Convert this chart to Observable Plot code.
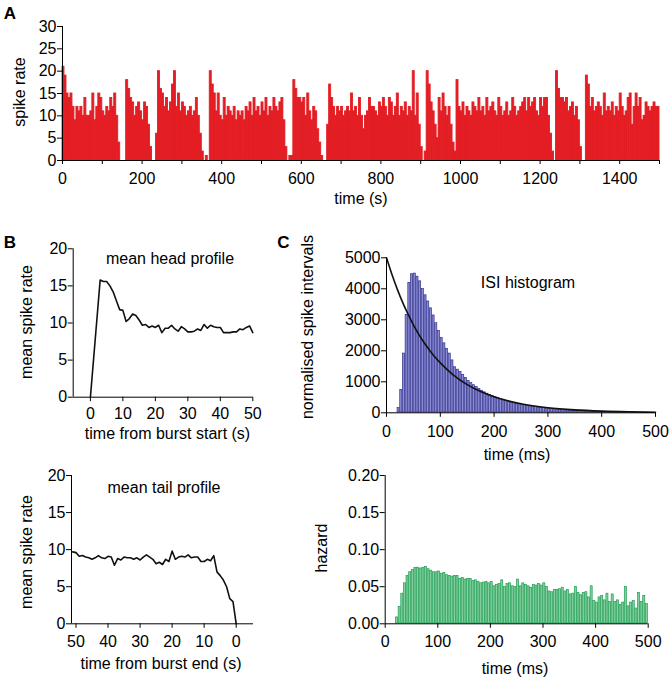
<!DOCTYPE html>
<html><head><meta charset="utf-8">
<script src="https://cdn.jsdelivr.net/npm/d3@7"></script>
<script src="https://cdn.jsdelivr.net/npm/@observablehq/plot@0.6"></script>
<style>
html,body{margin:0;padding:0;background:#fff;}
#fig{position:relative;width:672px;height:682px;overflow:hidden;font-family:"Liberation Sans",Arial,Helvetica,sans-serif;color:#000;background:#fff;}
.panel{position:absolute;}
.lbl{position:absolute;font-size:16px;line-height:16px;white-space:nowrap;transform:translate(-50%,-50%);}
.rot{transform:translate(-50%,-50%) rotate(-90deg);}
.letter{position:absolute;font-size:17px;font-weight:bold;line-height:17px;transform:translate(-50%,-50%);}
</style></head><body><div id="fig"></div>
<script>
// ---------- Panel A: spike rate in 5 s bins, 0-1500 s ----------
const binSeconds = 5;
const spikeRate = [
  // burst 1 (0-145 s)
  21,19,15,14,15,12,9,12,11,12,10,14,10,10,11,15,9,12,15,14,11,10,12,11,14,12,15,10,4,
  0,0,0,
  // burst 2 (160-225 s)
  18,16,14,13,10,12,13,11,9,13,12,8,3,
  0,0,
  // burst 3 (235-355 s)
  6,20,16,15,12,14,11,13,17,20,12,15,11,13,12,10,11,12,10,11,14,10,6,2,
  0,1,0,
  // burst 4 (370-565 s)
  20,17,15,11,15,10,9,14,10,12,11,10,12,9,11,10,11,9,12,11,13,10,14,11,12,10,13,11,14,10,12,11,14,12,11,13,14,9,3,
  0,
  // burst 5 (570-655 s)
  1,1,18,16,14,14,13,14,10,15,11,9,12,11,7,4,1,
  0,0,
  // burst 6 (665-905 s)
  8,17,14,12,10,12,11,12,10,11,12,11,15,11,12,10,14,10,7,10,11,14,12,12,11,10,13,12,14,12,10,14,13,10,12,15,10,12,11,13,10,12,11,20,10,15,8,3,
  0,
  // burst 7 (910-990 s)
  2,20,17,13,11,8,5,14,11,15,12,10,12,8,4,2,
  // burst 8 (990-1235 s)
  18,12,11,13,10,12,11,10,13,12,11,14,11,12,10,14,11,12,13,11,10,14,12,10,11,13,10,11,14,12,10,11,12,13,14,11,14,12,13,14,11,10,14,12,14,14,10,6,2,
  0,
  // burst 9 (1240-1305 s)
  20,16,14,14,13,14,11,12,13,10,12,9,3,
  0,0,
  // burst 10 (1315-1500 s)
  19,17,12,14,11,12,13,12,10,15,11,12,11,13,10,12,11,15,12,10,11,14,15,8,12,15,12,14,9,10,13,12,11,12,13,12,12
];

// ---------- Panel B: mean head / tail profiles ----------
const headTime = [0,3,4,5,6,7,8,9,10,11,12,13,14,15,16,17,18,19,20,21,22,23,24,25,26,27,28,29,30,31,32,33,34,35,36,37,38,39,40,41,42,43,44,45,46,47,48,49,50];
const headRate = [0,15.8,15.6,15.6,15.0,14.2,13.0,11.8,11.7,10.2,10.6,11.2,11.0,10.4,9.7,9.8,9.4,9.6,9.4,9.7,8.7,9.3,9.3,9.7,9.2,8.9,9.5,9.2,8.8,8.8,8.9,9.2,9.0,9.8,9.3,9.7,9.5,9.4,9.4,8.7,8.7,8.7,8.8,8.8,9.2,9.1,9.4,9.6,8.7];
const tailTime = [51,50,49,48,47,46,45,44,43,42,41,40,39,38,37,36,35,34,33,32,31,30,29,28,27,26,25,24,23,22,21,20,19,18,17,16,15,14,13,12,11,10,9,8,7,6,5,4,3,2,1,0];
const tailRate = [9.7,9.6,9.1,9.2,9.0,8.9,8.7,8.9,9.2,8.9,8.8,9.1,9.0,7.9,8.8,8.6,9.0,8.9,8.9,8.7,8.9,8.6,9.0,9.3,9.0,8.7,8.1,8.3,8.0,8.7,8.4,9.8,8.7,9.0,9.1,9.0,9.3,8.9,9.0,9.0,8.4,8.4,8.7,8.5,9.2,7.0,6.5,5.9,5.0,3.4,3.0,0];

// ---------- Panel C: ISI histogram (5 ms bins) and hazard ----------
const binMs = 5;
const isiCount = [
  0,0,0,0,160,750,1920,3170,4200,4480,
  4500,4400,4250,4000,3800,3600,3380,3150,2900,2650,
  2420,2250,2070,1920,1700,1480,1400,1330,1230,1130,
  1040,970,900,840,780,720,670,625,585,545,
  510,480,450,420,390,365,340,320,300,280,
  265,250,235,220,205,192,180,170,160,150,
  140,131,122,114,107,100,94,88,82,77,
  72,68,64,60,56,53,50,47,44,41,
  39,37,35,33,31,29,27,26,24,23,
  22,21,20,19,18,17,16,15,14,13
];
const fitTime = [0,10,20,30,40,50,60,70,80,90,100,125,150,175,200,250,300,350,400,450,500];
const fitCount = [5000,4470,3990,3560,3180,2840,2530,2260,2020,1800,1610,1210,910,685,515,290,165,95,55,32,20];
const hazard = [
  0,0,0,0,0.009,0.023,0.041,0.055,0.065,0.070,
  0.073,0.076,0.076,0.075,0.076,0.077,0.074,0.072,0.070,0.070,
  0.071,0.068,0.069,0.066,0.065,0.064,0.065,0.065,0.061,0.062,
  0.060,0.061,0.061,0.058,0.059,0.057,0.055,0.056,0.057,0.055,
  0.057,0.051,0.053,0.054,0.059,0.050,0.054,0.055,0.051,0.050,
  0.060,0.051,0.055,0.053,0.051,0.049,0.053,0.052,0.054,0.052,
  0.055,0.050,0.044,0.043,0.046,0.046,0.047,0.049,0.044,0.046,
  0.040,0.041,0.050,0.042,0.039,0.042,0.043,0.036,0.051,0.031,
  0.029,0.036,0.038,0.032,0.041,0.030,0.040,0.030,0.032,0.026,
  0.029,0.050,0.024,0.029,0.031,0.021,0.042,0.030,0.038,0.027
];

// tick labels
const ticksA_x = d3.range(0, 1501, 100);
const ticksA_y = [0,5,10,15,20,25,30];
const ticksHead_x = [0,10,20,30,40,50];
const ticksTail_x = [50,40,30,20,10,0];
const ticksProfile_y = [0,5,10,15,20];
const ticksMs = [0,100,200,300,400,500];
const ticksIsi_y = [0,1000,2000,3000,4000,5000];
const ticksHaz_y = [0,0.05,0.10,0.15,0.20];

// ---------- build ----------
const fig = document.getElementById("fig");
const FONT = '"Liberation Sans", Arial, Helvetica, sans-serif';
const style = {fontSize: "16px", fontFamily: FONT, color: "#000", background: "transparent", overflow: "visible"};

function place(svg, left, top) {
  const d = document.createElement("div");
  d.className = "panel";
  d.style.left = left + "px"; d.style.top = top + "px";
  d.appendChild(svg); fig.appendChild(d);
}
function label(text, x, y, cls) {
  const d = document.createElement("div");
  d.className = cls || "lbl";
  d.textContent = text;
  d.style.left = x + "px"; d.style.top = y + "px";
  fig.appendChild(d);
}

const rateRows = spikeRate.map((v, i) => ({t0: i * binSeconds, t1: (i + 1) * binSeconds, v})).filter(d => d.v > 0);
place(Plot.plot({
  width: 672, height: 195, marginLeft: 62, marginRight: 13, marginTop: 26, marginBottom: 35,
  style,
  x: {domain: [0, 1500]}, y: {domain: [0, 30]},
  marks: [
    Plot.rectY(rateRows, {x1: "t0", x2: "t1", y: "v", fill: "#e31e24", stroke: "#e31e24", strokeWidth: 0.9, inset: 0}),
    Plot.ruleY([0], {stroke: "#000"}),
    Plot.ruleX([0], {stroke: "#000"}),
    Plot.axisX({ticks: ticksA_x, tickFormat: d => d % 200 === 0 ? String(d) : "", tickSize: 4, tickPadding: 8, label: null}),
    Plot.axisY({ticks: ticksA_y, tickSize: 5, tickPadding: 1, label: null})
  ]
}), 0, 0);

const headRows = headTime.map((t, i) => ({t, v: headRate[i]}));
place(Plot.plot({
  width: 270, height: 190, marginLeft: 72.7, marginRight: 17.7, marginTop: 18.3, marginBottom: 23.3,
  style,
  x: {domain: [-5.3, 50]}, y: {domain: [0, 20]},
  marks: [
    Plot.line(headRows, {x: "t", y: "v", stroke: "#111", strokeWidth: 1.6}),
    Plot.ruleY([0], {stroke: "#000"}),
    Plot.ruleX([-5.3], {stroke: "#000"}),
    Plot.axisX({ticks: ticksHead_x, tickSize: 4.5, tickPadding: 5.5, label: null}),
    Plot.axisY({ticks: ticksProfile_y, tickSize: 5, tickPadding: 1, label: null})
  ]
}), 0, 230);

const tailRows = tailTime.map((t, i) => ({t, v: tailRate[i]}));
place(Plot.plot({
  width: 270, height: 195, marginLeft: 71, marginRight: 17, marginTop: 20, marginBottom: 26.7,
  style,
  x: {domain: [51.4, -5.4]}, y: {domain: [0, 20]},
  marks: [
    Plot.line(tailRows, {x: "t", y: "v", stroke: "#111", strokeWidth: 1.6}),
    Plot.ruleY([0], {stroke: "#000"}),
    Plot.ruleX([51.4], {stroke: "#000"}),
    Plot.axisX({ticks: ticksTail_x, tickSize: 4.5, tickPadding: 7, label: null}),
    Plot.axisY({ticks: ticksProfile_y, tickSize: 5, tickPadding: 1, label: null})
  ]
}), 0, 455);

const isiRows = isiCount.map((v, i) => ({t0: i * binMs, t1: (i + 1) * binMs, v})).filter(d => d.v > 0);
const fitRows = fitTime.map((t, i) => ({t, v: fitCount[i]}));
place(Plot.plot({
  width: 372, height: 200, marginLeft: 86, marginRight: 17, marginTop: 17.3, marginBottom: 27.7,
  style,
  x: {domain: [0, 500]}, y: {domain: [0, 5000]},
  marks: [
    Plot.rectY(isiRows, {x1: "t0", x2: "t1", y: "v", fill: "#8c8cd2", stroke: "#2f2f8f", strokeWidth: 0.7, inset: 0.3}),
    Plot.line(fitRows, {x: "t", y: "v", stroke: "#111", strokeWidth: 1.6, curve: "monotone-x"}),
    Plot.ruleY([0], {stroke: "#000"}),
    Plot.ruleX([0], {stroke: "#000"}),
    Plot.axisX({ticks: ticksMs, tickSize: 4.5, tickPadding: 8, label: null}),
    Plot.axisY({ticks: ticksIsi_y, tickFormat: d => String(d), tickSize: 5, tickPadding: 1, label: null})
  ]
}), 300, 240);

const hazRows = hazard.map((v, i) => ({t0: i * binMs, t1: (i + 1) * binMs, v})).filter(d => d.v > 0);
place(Plot.plot({
  width: 372, height: 200, marginLeft: 84.7, marginRight: 24.3, marginTop: 20, marginBottom: 31.7,
  style,
  x: {domain: [0, 500]}, y: {domain: [0, 0.2]},
  marks: [
    Plot.rectY(hazRows, {x1: "t0", x2: "t1", y: "v", fill: "#84d0a0", stroke: "#1f9e52", strokeWidth: 0.7, inset: 0.3}),
    Plot.ruleY([0], {stroke: "#000"}),
    Plot.ruleX([0], {stroke: "#000"}),
    Plot.axisX({ticks: ticksMs, tickSize: 4.5, tickPadding: 7, label: null}),
    Plot.axisY({ticks: ticksHaz_y, tickFormat: d => d.toFixed(2), tickSize: 5, tickPadding: 1, label: null})
  ]
}), 300, 455);

// ---------- text ----------
label("A", 10, 13, "letter");
label("B", 10, 242, "letter");
label("C", 283.5, 242, "letter");

label("spike rate", 19.5, 92, "lbl rot");
label("time (s)", 361, 199);

label("mean head profile", 170, 259);
label("mean spike rate", 27, 322, "lbl rot");
label("time from burst start (s)", 167.5, 433.5);

label("mean tail profile", 164, 488);
label("mean spike rate", 27, 552, "lbl rot");
label("time from burst end (s)", 161, 664);

label("ISI histogram", 528, 283);
label("normalised spike intervals", 307.5, 327, "lbl rot");
label("time (ms)", 517, 454.5);

label("hazard", 322, 548, "lbl rot");
label("time (ms)", 515, 668.5);
</script></body></html>
